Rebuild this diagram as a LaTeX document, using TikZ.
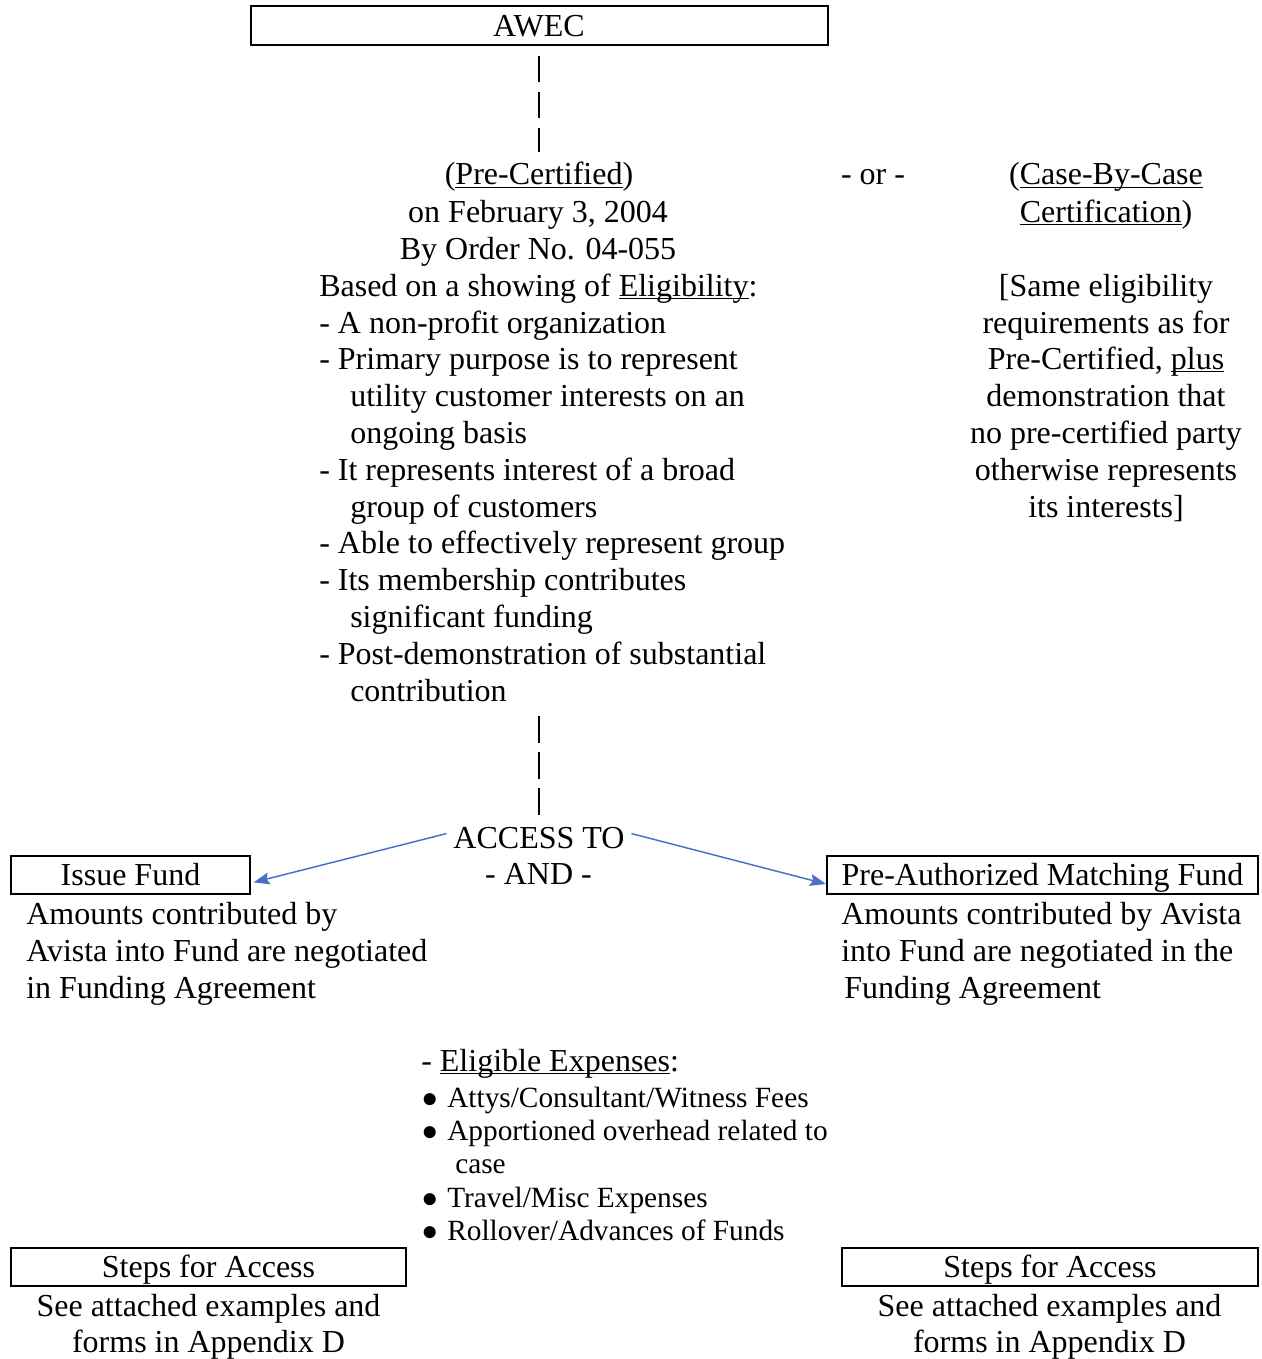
\documentclass[tikz,border=0pt]{standalone}
\usepackage{fontspec}
\setmainfont{Liberation Serif}
\usetikzlibrary{arrows.meta}
\definecolor{arrowblue}{HTML}{4472C4}
\newcommand\myul[1]{\setbox0\hbox{#1}\rlap{\rule[-2.4pt]{\wd0}{0.75pt}}\box0}
\newcommand\mybul{\makebox[19.5pt][l]{\fontsize{21}{21}\selectfont ●}}
\begin{document}
\begin{tikzpicture}[x=0.75pt,y=-0.75pt,
  bigfont/.style={font=\fontsize{24}{27.75}\selectfont},
  smallfont/.style={font=\fontsize{22}{25.5}\selectfont},
  lt/.style={bigfont, inner sep=0pt, anchor=base west},
  ct/.style={bigfont, inner sep=0pt, anchor=base},
  slt/.style={smallfont, inner sep=0pt, anchor=base west},
  box/.style={draw, line width=1.5pt, bigfont, inner xsep=0pt, inner ysep=0pt,
    text height=22.5pt, text depth=6.4pt},
  dashline/.style={line width=0.8pt, dash pattern=on 20pt off 7pt},
  bluearrow/.style={draw=arrowblue, line width=1.1pt,
    -{Stealth[length=12pt,width=9pt,inset=2pt]}}
]
\useasboundingbox (0,0) rectangle (1262,1359);

% boxes
\node[box, minimum width=432.75pt] (awec) at (539,25.5) {AWEC};
\node[box, minimum width=179.25pt] (issue) at (130.5,875) {Issue Fund};
\node[box, minimum width=323.25pt] (preauth) at (1042.5,875) {Pre-Authorized Matching Fund};
\node[box, minimum width=296.25pt] (steps1) at (208.5,1267) {Steps for Access};
\node[box, minimum width=312pt] (steps2) at (1050,1267) {Steps for Access};

% pre-certified heading
\node[ct] (precert) at (539,185) {(\myul{Pre-Certified})};
\node[ct] (date) at (538,222) {on February 3, 2004};
\node[ct] (order) at (538,259) {By Order No. 04-055};
\node[ct] (orsep) at (873,185) {- or -};

% eligibility list
\foreach \nm/\yy/\xx/\t in {
  e1/296/319/{Based on a showing of \myul{Eligibility}:},
  e2/333/319/{- A non-profit organization},
  e3/369/319/{- Primary purpose is to represent},
  e4/406/350/{utility customer interests on an},
  e5/443/350/{ongoing basis},
  e6/480/319/{- It represents interest of a broad},
  e7/517/350/{group of customers},
  e8/553/319/{- Able to effectively represent group},
  e9/590/319/{- Its membership contributes},
  e10/627/350/{significant funding},
  e11/664/319/{- Post-demonstration of substantial},
  e12/701/350/{contribution}}
  \node[lt] (\nm) at (\xx,\yy) {\t};

% case-by-case
\foreach \nm/\yy/\t in {
  c1/185/{(\myul{Case-By-Case}},
  c2/222/{\myul{Certification})},
  c3/296/{[Same eligibility},
  c4/333/{requirements as for},
  c5/369/{Pre-Certified, \myul{plus}},
  c6/406/{demonstration that},
  c7/443/{no pre-certified party},
  c8/480/{otherwise represents},
  c9/517/{its interests]}}
  \node[ct] (\nm) at (1106,\yy) {\t};

% access
\node[ct, inner xsep=5pt] (access) at (539,848) {ACCESS TO};
\node[ct] (and) at (538.5,884) {- AND -};
\coordinate (lowtop) at (539,716);

% fund descriptions
\node[lt] (i1) at (26,924) {Amounts contributed by};
\node[lt] (i2) at (26,961) {Avista into Fund are negotiated};
\node[lt] (i3) at (26,998) {in Funding Agreement};
\node[lt] (p1) at (841,924) {Amounts contributed by Avista};
\node[lt] (p2) at (841,961) {into Fund are negotiated in the};
\node[lt] (p3) at (844,998) {Funding Agreement};

% eligible expenses
\node[lt] (x0) at (421,1071) {- \myul{Eligible Expenses}:};
\node[slt] (x1) at (421,1107) {\mybul Attys/Consultant/Witness Fees};
\node[slt] (x2) at (421,1140) {\mybul Apportioned overhead related to};
\node[slt] (x3) at (455,1173) {case};
\node[slt] (x4) at (421,1207) {\mybul Travel/Misc Expenses};
\node[slt] (x5) at (421,1240) {\mybul Rollover/Advances of Funds};

% steps descriptions
\node[ct] (s1a) at (208.5,1316) {See attached examples and};
\node[ct] (s1b) at (208.5,1352) {forms in Appendix D};
\node[ct] (s2a) at (1049.5,1316) {See attached examples and};
\node[ct] (s2b) at (1049.5,1352) {forms in Appendix D};

% connectors
\draw[dashline, shorten <=7.5pt, shorten >=7.5pt] (awec) -- (precert);
\draw[dashline, shorten >=7.4pt] (lowtop) -- (access);
\draw[bluearrow, shorten >=2pt] ([yshift=3pt]access.west) -- ([yshift=-6pt]issue.east);
\draw[bluearrow] ([yshift=3pt]access.east) -- ([yshift=-6.75pt]preauth.west);
\end{tikzpicture}
\end{document}
